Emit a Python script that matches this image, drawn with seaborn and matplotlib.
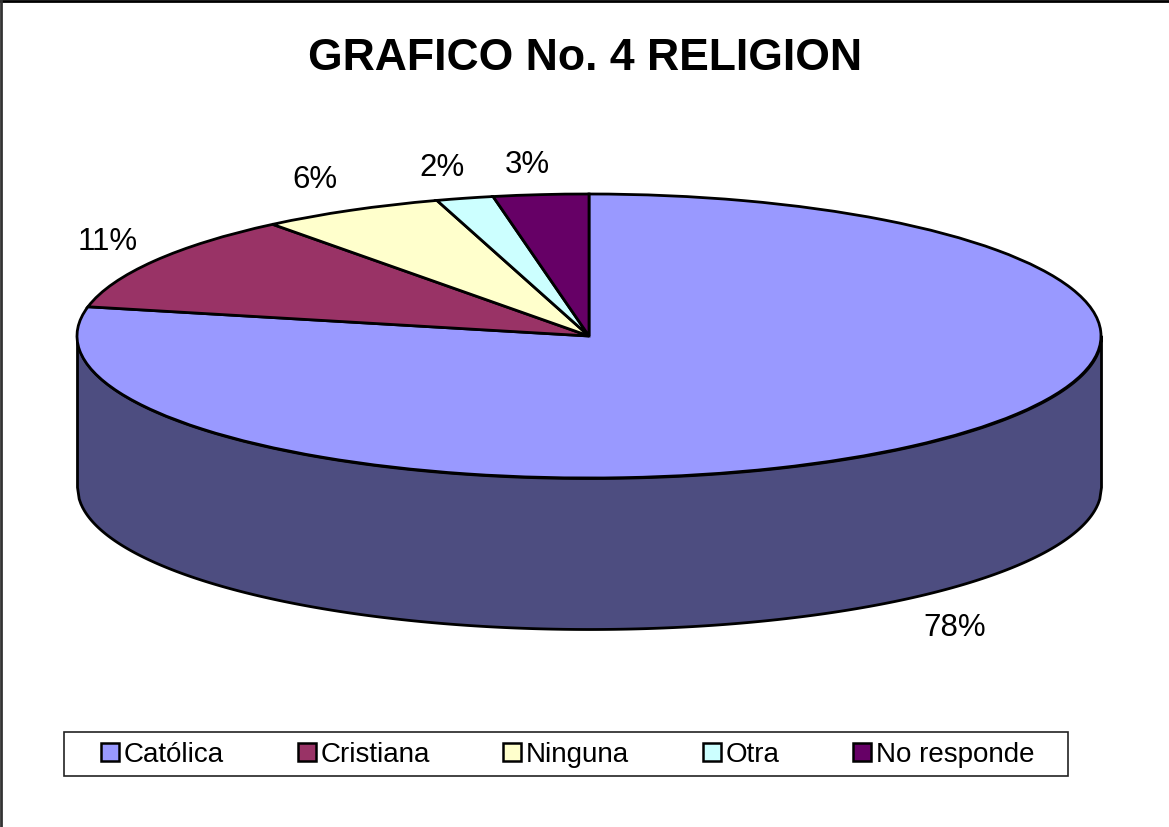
import numpy as np
import matplotlib
matplotlib.use("Agg")
import matplotlib.pyplot as plt
from matplotlib.lines import Line2D
from matplotlib.patches import Rectangle
import seaborn as sns

# Data
categories = ["Católica", "Cristiana", "Ninguna", "Otra", "No responde"]
values = [78.3, 11.1, 5.8, 1.8, 3.0]
slice_colors = ["#9999FF", "#993366", "#FFFFCC", "#CCFFFF", "#660066"]
chart_title = "GRAFICO No. 4 RELIGION"

sns.set_theme(style="white")
plt.rcParams["font.family"] = ["Liberation Sans", "DejaVu Sans"]
palette = sns.color_palette(slice_colors)

W, H = 1169, 827
CX, CY, RX, RY, DEPTH = 589, 336, 512, 142, 151
side_color = "#4D4D80"


def fx(px):
    return px / W


def fy(py):
    return 1 - py / H


fig = plt.figure(figsize=(W / 100, H / 100), dpi=100, facecolor="white")
ax = fig.add_axes([0, 0, 1, 1])

# Pie is drawn on a unit circle, then squashed through the axis limits
wedges, _ = ax.pie(values, colors=palette, startangle=90, counterclock=False,
                   wedgeprops={"edgecolor": "black", "linewidth": 2, "zorder": 3})
ax.set_aspect("auto")
ax.set_xlim(-CX / RX, (W - CX) / RX)
ax.set_ylim(-(H - CY) / RY, CY / RY)

# Side wall of the disc
x = np.linspace(-1, 1, 600)
lower = -np.sqrt(1 - x ** 2)
ax.fill_between(x, lower, lower - DEPTH / RY, facecolor=side_color,
                edgecolor="black", linewidth=2, zorder=1)

# Percent labels
label_pos = [(955, 628), (108, 242), (315, 180), (442, 168), (527, 165)]
for v, (px, py) in zip(values, label_pos):
    fig.text(fx(px), fy(py), f"{v:.0f}%", fontsize=22.5, color="black",
             ha="center", va="center")

fig.text(fx(585), fy(58), chart_title, fontsize=32, fontweight="bold",
         color="black", ha="center", va="center")

# Legend box
fig.add_artist(Rectangle((fx(64), fy(776)), 1004 / W, 44 / H,
                         transform=fig.transFigure, facecolor="white",
                         edgecolor="#222222", linewidth=1.2, zorder=4))
handles = [Line2D([], [], linestyle="none", marker="s", markersize=12.5,
                  markerfacecolor=c, markeredgecolor="black", markeredgewidth=1.8)
           for c in palette]
leg = fig.legend(handles, categories, ncol=5, loc="center",
                 bbox_to_anchor=(fx(566), fy(755)), frameon=False, fontsize=20,
                 labelcolor="black", columnspacing=2.52, handletextpad=0.05,
                 handlelength=0.9, borderpad=0, borderaxespad=0)
leg.set_zorder(5)

# Only the top and left edges of the outer frame show in the picture
fig.add_artist(Line2D([0, 1], [fy(0.5)] * 2, color="black", linewidth=2,
                      transform=fig.transFigure))
fig.add_artist(Line2D([fx(1)] * 2, [0, 1], color="#333333", linewidth=2,
                      transform=fig.transFigure))

fig.savefig("out.png", dpi=100, facecolor="white")
